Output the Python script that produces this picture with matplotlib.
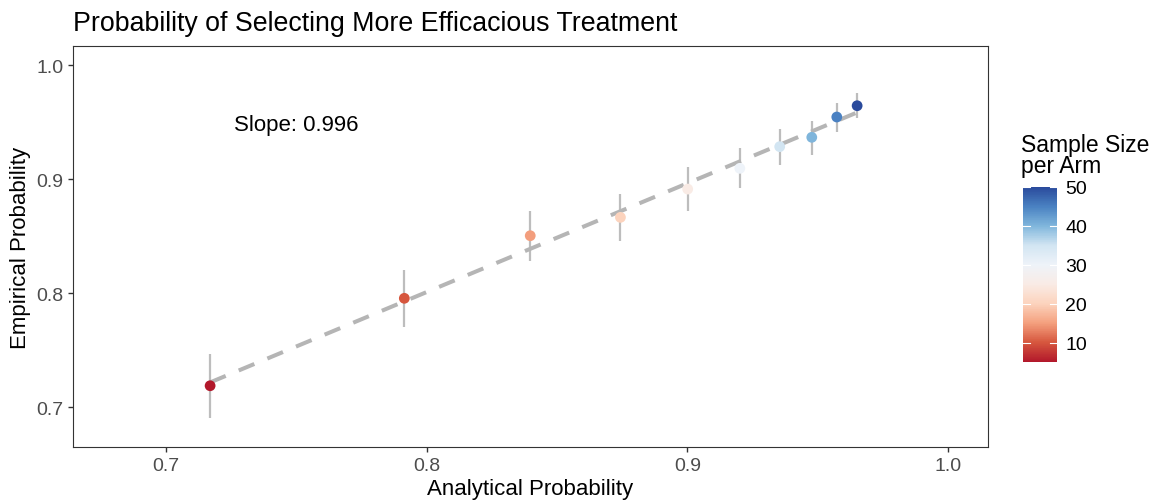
import matplotlib
matplotlib.use("Agg")
import matplotlib.pyplot as plt
import numpy as np
from matplotlib.colors import LinearSegmentedColormap, Normalize

plt.rcParams['font.family'] = ['Liberation Sans', 'DejaVu Sans']

# data
analytical = [0.7169, 0.7914, 0.8397, 0.8743, 0.9001, 0.9201, 0.9354, 0.9477, 0.9573, 0.9651]
empirical = [0.7187, 0.7954, 0.8503, 0.8664, 0.8912, 0.9094, 0.9284, 0.9366, 0.9544, 0.9643]
err_low = [0.6904, 0.7704, 0.8283, 0.8453, 0.8722, 0.8918, 0.9126, 0.9213, 0.9415, 0.9533]
err_high = [0.7462, 0.8202, 0.8722, 0.8868, 0.9103, 0.9269, 0.9439, 0.9512, 0.9667, 0.9754]
sample_size = [5, 10, 15, 20, 25, 30, 35, 40, 45, 50]
fit_slope = 0.954
fit_intercept = 0.0377
slope_label = "Slope: 0.996"

x_ticks = [0.7, 0.8, 0.9, 1.0]
y_ticks = [0.7, 0.8, 0.9, 1.0]
cbar_ticks = [10, 20, 30, 40, 50]

# red - white - blue scale as in the legend
rdbu = LinearSegmentedColormap.from_list(
    "rdbu_ref",
    [(0.0, '#b2182b'), (0.111, '#d6573e'), (0.222, '#f4a07e'), (0.333, '#fcd3bd'),
     (0.444, '#f9ebe5'), (0.556, '#eef3f9'), (0.667, '#d2e5f2'), (0.778, '#80b6dc'),
     (0.889, '#4a82c2'), (1.0, '#2a4a9c')])
norm = Normalize(vmin=min(sample_size), vmax=max(sample_size))

fig = plt.figure(figsize=(11.53, 5.02), dpi=100)
ax = fig.add_axes([0.0633, 0.1076, 0.7936, 0.7988])

ax.vlines(analytical, err_low, err_high, color='#bdbdbd', lw=1.6, zorder=1)

xs = np.array([min(analytical), max(analytical)])
ax.plot(xs, fit_intercept + fit_slope * xs, color='#b5b5b5', lw=2.9,
        dashes=(4.2, 3.5), solid_capstyle='butt', zorder=2)

sc = ax.scatter(analytical, empirical, c=sample_size, cmap=rdbu, norm=norm,
                s=60, linewidths=0, zorder=3)

ax.text(0.7501, 0.948, slope_label, ha='center', va='center', fontsize=16, color='black')

ax.set_xlim(0.6643, 1.0153)
ax.set_ylim(0.665, 1.0167)
ax.set_xticks(x_ticks)
ax.set_xticklabels([f"{t:.1f}" for t in x_ticks])
ax.set_yticks(y_ticks)
ax.set_yticklabels([f"{t:.1f}" for t in y_ticks])
ax.tick_params(colors='#333333', labelcolor='#4d4d4d', labelsize=14, length=3.5, width=1)
for s in ax.spines.values():
    s.set_color('#333333')
    s.set_linewidth(0.8)

ax.set_xlabel("Analytical Probability", fontsize=16, labelpad=3)
ax.set_ylabel("Empirical Probability", fontsize=16, labelpad=4)
ax.text(0.0, 1.0 + 10 / 401, "Probability of Selecting More Efficacious Treatment",
        transform=ax.transAxes, fontsize=19.3, ha='left', va='bottom')

# colourbar
cax = fig.add_axes([1023 / 1153, 1 - 363 / 502, 34 / 1153, 175 / 502])
cb = fig.colorbar(sc, cax=cax, ticks=cbar_ticks)
cb.outline.set_visible(False)
cax.tick_params(labelsize=14, labelcolor='black', length=0, pad=6)
for t in cbar_ticks:
    cax.plot([0, 0.2], [t, t], color='white', lw=0.8, transform=cax.get_yaxis_transform())
    cax.plot([0.8, 1.0], [t, t], color='white', lw=0.8, transform=cax.get_yaxis_transform())
fig.text(1021 / 1153, 1 - 134 / 502, "Sample Size\nper Arm", fontsize=16.5, va='top', ha='left',
         linespacing=0.9)

fig.savefig("out.png", dpi=100)
